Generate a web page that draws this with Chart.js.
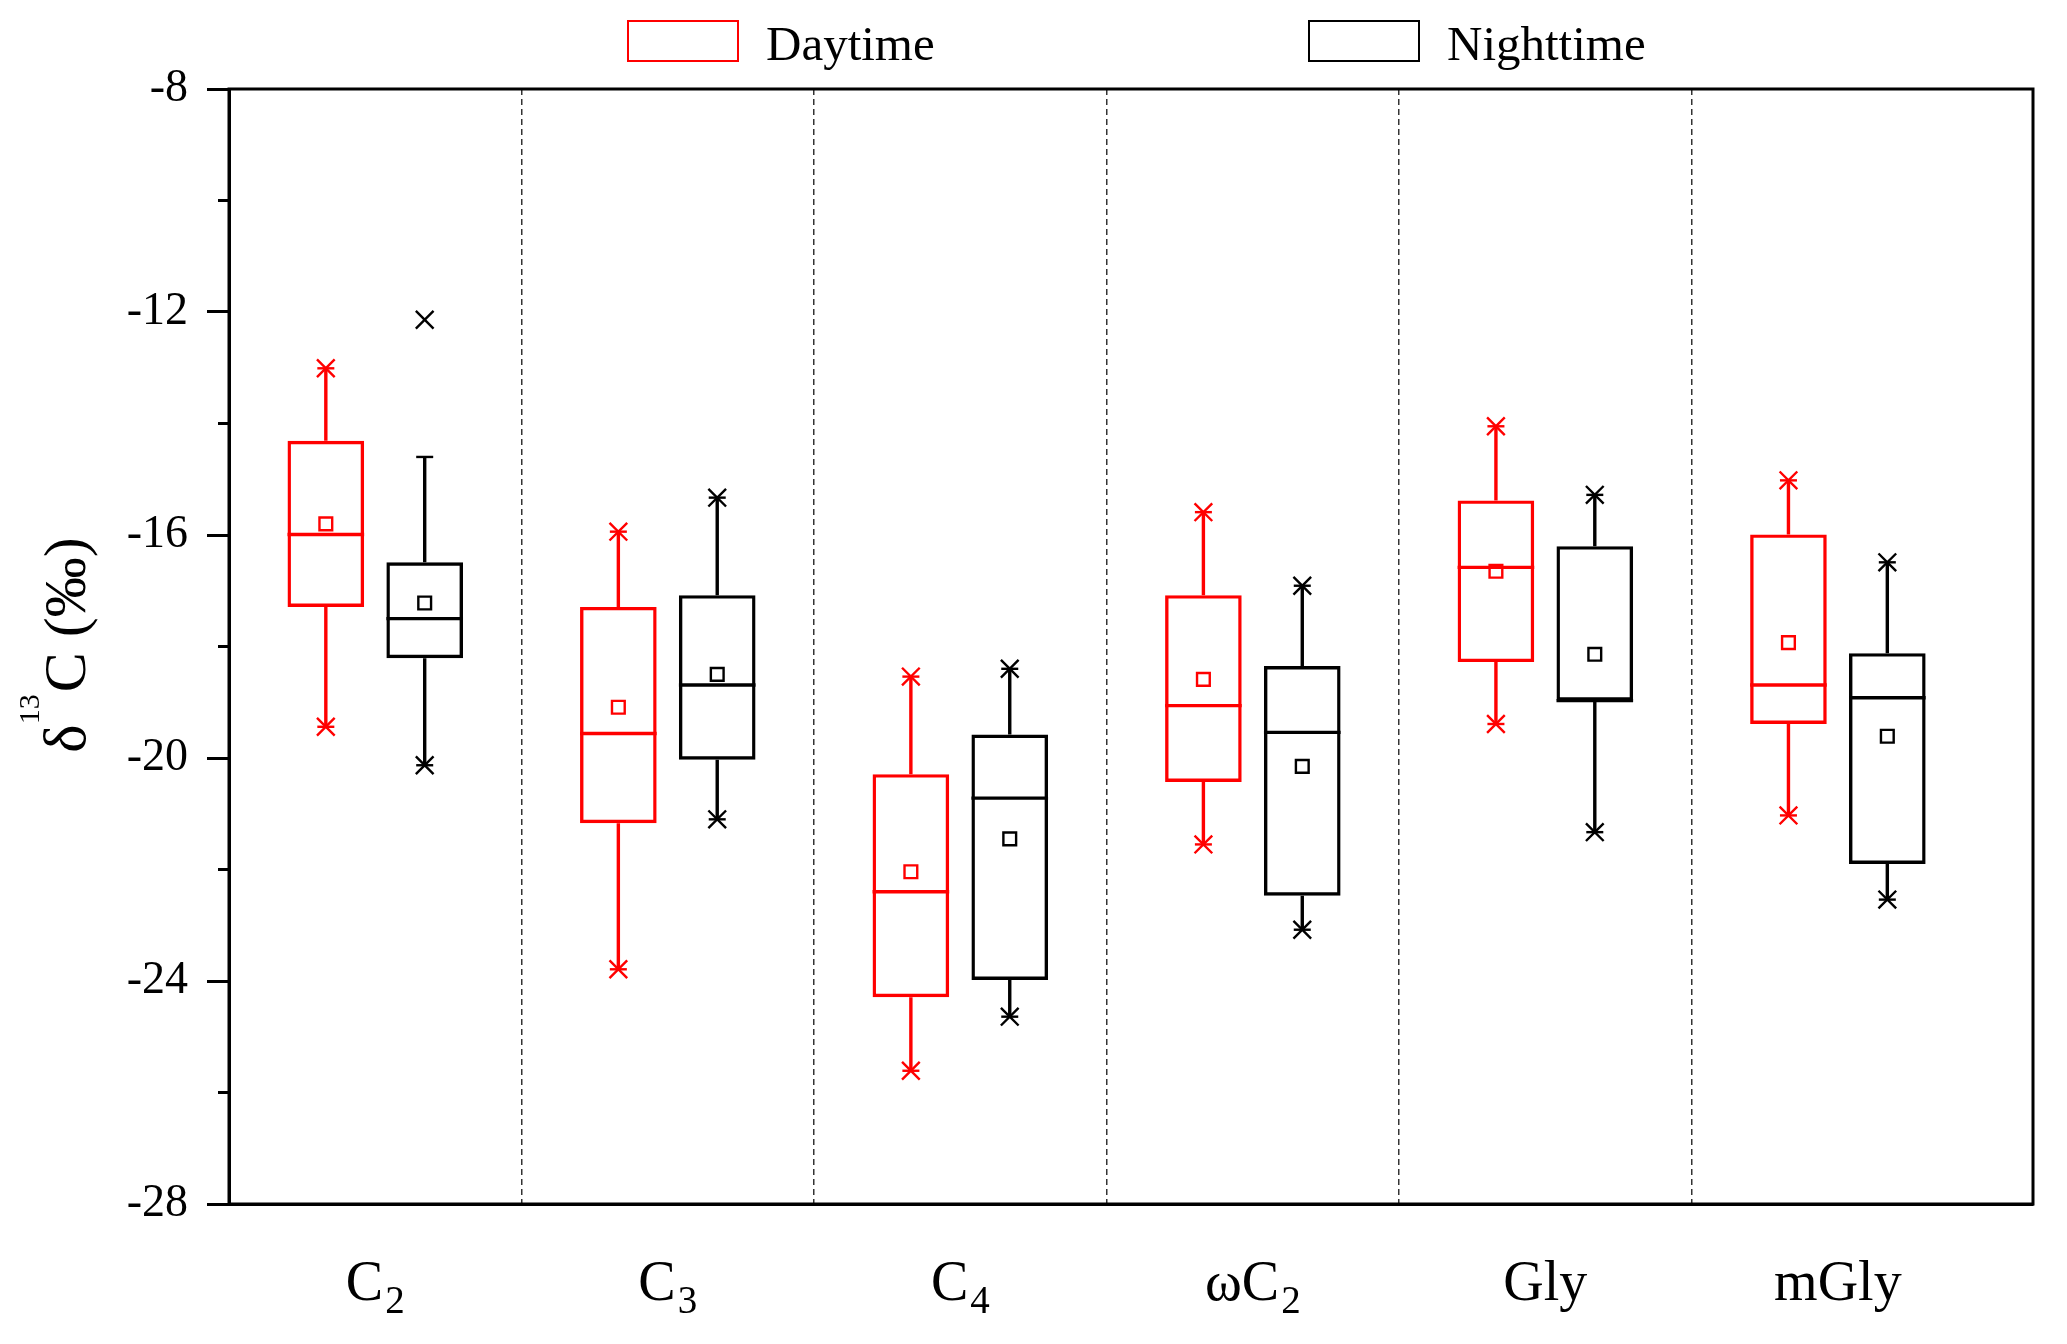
<!DOCTYPE html>
<html>
<head>
<meta charset="utf-8">
<title>δ13C daytime / nighttime</title>
<script src="https://cdn.jsdelivr.net/npm/chart.js@4"></script>
<style>
  body { margin: 0; background: #fff; }
  #wrap { width: 2067px; height: 1344px; }
</style>
</head>
<body>
<div id="wrap"><canvas id="boxChart"></canvas></div>
<script>
const categories = ['C2', 'C3', 'C4', 'ωC2', 'Gly', 'mGly'];

// daytime boxes: whisker ends, quartiles, median, mean
const dayLow    = [-19.44, -23.79, -25.61, -21.55, -19.39, -21.03];
const dayQ1     = [-17.29, -21.17, -24.29, -20.43, -18.28, -19.39];
const dayMedian = [-15.99, -19.56, -22.40, -19.06, -16.58, -18.69];
const dayQ3     = [-14.31, -17.29, -20.29, -17.08, -15.38, -15.99];
const dayHigh   = [-13.01, -15.94, -18.54, -15.59, -14.05, -15.02];
const dayMean   = [-15.80, -19.09, -22.04, -18.59, -16.65, -17.93];

// nighttime boxes
const nightLow    = [-20.13, -21.10, -24.64, -23.08, -21.33, -22.54];
const nightQ1     = [-18.21, -20.03, -23.98, -22.47, -18.97, -21.90];
const nightMedian = [-17.50, -18.69, -20.72, -19.54, -18.97, -18.92];
const nightQ3     = [-16.49, -17.08, -19.58, -18.35, -16.20, -18.12];
const nightHigh   = [-14.60, -15.33, -18.40, -16.91, -15.28, -16.49];
const nightMean   = [-17.22, -18.50, -21.45, -20.15, -18.14, -19.61];
// upper x marks (C2 one sits above its whisker)
const nightCrossHigh = [-12.14, -15.33, -18.40, -16.91, -15.28, -16.49];

const yTicks = [-8, -12, -16, -20, -24, -28];
const yMinorTicks = [-10, -14, -18, -22, -26];
const yMin = -28, yMax = -8;

const RED = '#ff0000', BLACK = '#000000';
const catPct = 0.676;
const shift = catPct / 4;   // centre of each box inside its group

const serif = "'Liberation Serif', 'Times New Roman', serif";
Chart.defaults.font.family = serif;
Chart.defaults.color = '#000';

function pts(vals, dx) {
  return vals.map((v, i) => ({ x: i + 1 + dx, y: v }));
}

function markers(label, data, style, radius, color) {
  return {
    type: 'line', label: label, data: data, showLine: false,
    pointStyle: style, pointRadius: radius, pointBorderColor: color,
    pointBackgroundColor: 'rgba(0,0,0,0)', pointBorderWidth: 2.4
  };
}

const boxExtras = {
  id: 'boxExtras',
  beforeDatasetsDraw(chart) {
    const y = chart.scales.y;
    const ctx = chart.ctx;
    const sets = [
      { lo: dayLow, med: dayMedian, q1: dayQ1, q3: dayQ3, hi: dayHigh, col: RED },
      { lo: nightLow, med: nightMedian, q1: nightQ1, q3: nightQ3, hi: nightHigh, col: BLACK }
    ];
    sets.forEach((s, k) => {
      const meta = chart.getDatasetMeta(k);
      ctx.save();
      ctx.strokeStyle = s.col;
      ctx.lineWidth = 3.4;
      meta.data.forEach((el, i) => {
        const x = el.x, w = el.width;
        ctx.beginPath();
        ctx.moveTo(x, y.getPixelForValue(s.q3[i]));
        ctx.lineTo(x, y.getPixelForValue(s.hi[i]));
        ctx.moveTo(x, y.getPixelForValue(s.q1[i]));
        ctx.lineTo(x, y.getPixelForValue(s.lo[i]));
        ctx.stroke();
        ctx.beginPath();
        ctx.moveTo(x - w / 2, y.getPixelForValue(s.med[i]));
        ctx.lineTo(x + w / 2, y.getPixelForValue(s.med[i]));
        ctx.stroke();
      });
      ctx.restore();
    });
  },
  afterDraw(chart) {
    const { ctx, chartArea: a, scales } = chart;
    ctx.save();
    // frame
    ctx.strokeStyle = BLACK;
    ctx.lineWidth = 3;
    ctx.strokeRect(a.left, a.top, a.right - a.left, a.bottom - a.top);
    // minor ticks
    ctx.beginPath();
    yMinorTicks.forEach(v => {
      const py = scales.y.getPixelForValue(v);
      ctx.moveTo(a.left - 11, py);
      ctx.lineTo(a.left, py);
    });
    ctx.stroke();

    // category labels with subscripts
    ctx.fillStyle = BLACK;
    ctx.textBaseline = 'alphabetic';
    ctx.textAlign = 'left';
    categories.forEach((c, i) => {
      const m = c.match(/^(.*?)(\d+)$/);
      const main = m ? m[1] : c;
      const sub = m ? m[2] : '';
      ctx.font = '56px ' + serif;
      const wMain = ctx.measureText(main).width;
      ctx.font = '39px ' + serif;
      const wSub = sub ? ctx.measureText(sub).width + 2 : 0;
      const cx = scales.x.getPixelForValue(i + 1);
      const x0 = cx - (wMain + wSub) / 2;
      ctx.font = '56px ' + serif;
      ctx.fillText(main, x0, 1300);
      if (sub) {
        ctx.font = '39px ' + serif;
        ctx.fillText(sub, x0 + wMain + 2, 1313);
      }
    });

    // y title: δ13C (‰)
    ctx.save();
    ctx.translate(85, 645);
    ctx.rotate(-Math.PI / 2);
    ctx.font = '60px ' + serif;
    const wd = ctx.measureText('δ').width;
    const wc = ctx.measureText('C (‰)').width;
    ctx.font = '30px ' + serif;
    const ws = ctx.measureText('13').width;
    let tx = -(wd + ws + wc + 2) / 2;
    ctx.font = '60px ' + serif;
    ctx.fillText('δ', tx, 0);
    tx += wd;
    ctx.font = '30px ' + serif;
    ctx.fillText('13', tx, -46);
    tx += ws + 2;
    ctx.font = '60px ' + serif;
    ctx.fillText('C (‰)', tx, 0);
    ctx.restore();

    // legend
    const items = [
      { text: chart.data.datasets[0].label, col: RED, x: 628 },
      { text: chart.data.datasets[1].label, col: BLACK, x: 1309 }
    ];
    ctx.lineWidth = 2;
    ctx.font = '49px ' + serif;
    items.forEach(it => {
      ctx.strokeStyle = it.col;
      ctx.strokeRect(it.x, 21, 110, 40);
      ctx.fillStyle = BLACK;
      ctx.fillText(it.text, it.x + 138, 60);
    });
    ctx.restore();
  }
};

const dayBoxes = categories.map((c, i) => ({ x: i + 1, y: [dayQ1[i], dayQ3[i]] }));
const nightBoxes = categories.map((c, i) => ({ x: i + 1, y: [nightQ1[i], nightQ3[i]] }));

const dayCross = pts(dayLow, -shift).concat(pts(dayHigh, -shift));
const nightCross = pts(nightLow, shift).concat(pts(nightCrossHigh, shift));
const dayDash = pts(dayLow, -shift).concat(pts(dayHigh, -shift));
const nightDash = pts(nightLow, shift).concat(pts(nightHigh, shift));

new Chart(document.getElementById('boxChart'), {
  type: 'bar',
  data: {
    datasets: [
      {
        label: 'Daytime', data: dayBoxes,
        backgroundColor: 'rgba(0,0,0,0)', borderColor: RED, borderWidth: 3.4,
        borderSkipped: false, categoryPercentage: catPct, barPercentage: 0.775
      },
      {
        label: 'Nighttime', data: nightBoxes,
        backgroundColor: 'rgba(0,0,0,0)', borderColor: BLACK, borderWidth: 3.4,
        borderSkipped: false, categoryPercentage: catPct, barPercentage: 0.775
      },
      markers('Daytime mean', pts(dayMean, -shift), 'rect', 9, RED),
      markers('Nighttime mean', pts(nightMean, shift), 'rect', 9, BLACK),
      markers('Daytime 1/99%', dayCross, 'crossRot', 12.5, RED),
      markers('Nighttime 1/99%', nightCross, 'crossRot', 12.5, BLACK),
      markers('Daytime min/max', dayDash, 'line', 8.5, RED),
      markers('Nighttime min/max', nightDash, 'line', 8.5, BLACK)
    ]
  },
  options: {
    responsive: true,
    maintainAspectRatio: false,
    animation: false,
    devicePixelRatio: 1,
    events: [],
    layout: { padding: { top: 89, right: 34, left: 0, bottom: 0 } },
    plugins: {
      legend: { display: false },
      tooltip: { enabled: false }
    },
    scales: {
      x: {
        type: 'linear',
        min: 0.5,
        max: 6.667,
        offset: false,
        afterBuildTicks: s => { s.ticks = [1.5, 2.5, 3.5, 4.5, 5.5].map(v => ({ value: v })); },
        afterFit: s => { s.height = 140; },
        ticks: { display: false },
        grid: { color: '#333', lineWidth: 1.5, drawTicks: false, offset: false },
        border: { display: true, color: BLACK, width: 3, dash: [6, 4] }
      },
      y: {
        min: yMin,
        max: yMax,
        afterBuildTicks: s => { s.ticks = yTicks.map(v => ({ value: v })); },
        afterFit: s => { s.width = 229; },
        ticks: { font: { family: serif, size: 46 }, color: BLACK, padding: 19 },
        grid: { drawOnChartArea: false, tickLength: 22, tickWidth: 3, tickColor: BLACK },
        border: { display: true, color: BLACK, width: 3 }
      }
    }
  },
  plugins: [boxExtras]
});
</script>
</body>
</html>
